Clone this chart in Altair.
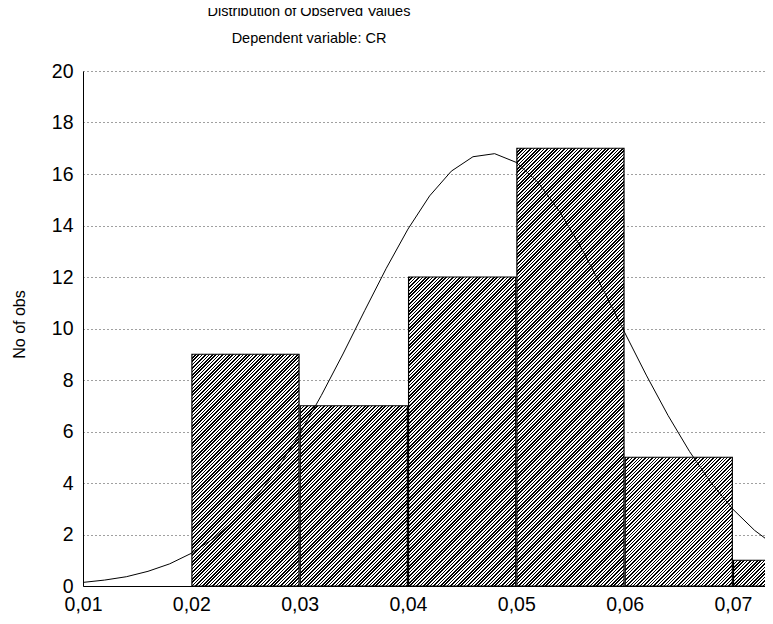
import altair as alt
import pandas as pd

# ---- data ----
bin_start = [0.02, 0.03, 0.04, 0.05, 0.06, 0.07]
bin_end = [0.03, 0.04, 0.05, 0.06, 0.07, 0.08]
counts = [9, 7, 12, 17, 5, 1]

curve_x = [0.010, 0.012, 0.014, 0.016, 0.018, 0.020, 0.022, 0.024, 0.026, 0.028,
           0.030, 0.032, 0.034, 0.036, 0.038, 0.040, 0.042, 0.044, 0.046, 0.048,
           0.050, 0.052, 0.054, 0.056, 0.058, 0.060, 0.062, 0.064, 0.066, 0.068,
           0.070, 0.072, 0.074]
curve_y = [0.14, 0.23, 0.36, 0.57, 0.86, 1.27, 1.83, 2.55, 3.47, 4.58,
           5.90, 7.40, 9.01, 10.69, 12.34, 13.86, 15.15, 16.11, 16.67, 16.79,
           16.45, 15.68, 14.54, 13.13, 11.53, 9.85, 8.19, 6.63, 5.22, 4.00,
           2.98, 2.16, 1.53]

x_ticks = [0.01, 0.02, 0.03, 0.04, 0.05, 0.06, 0.07]
y_ticks = [0, 2, 4, 6, 8, 10, 12, 14, 16, 18, 20]

# ---- layout / style ----
W, H = 682, 515
XMIN, XMAX = 0.01, 0.07296
YMAX = 20
LABEL_FONT = "Liberation Sans"
TITLE_FONT = "Liberation Sans"


def hatch(w, h, period=3.4, frac=0.45):
    """Linear gradient with hard stops that renders as '/' hatching."""
    L = w + h
    s = w * w + h * h
    a = w * L / s
    b = h * L / s
    stops = []
    k = 0
    while k * period < L:
        t0 = round(k * period / L, 5)
        t1 = round(min(1.0, (k + frac) * period / L), 5)
        t2 = round(min(1.0, (k + 1) * period / L), 5)
        stops += [{"offset": t0, "color": "black"},
                  {"offset": t1, "color": "black"},
                  {"offset": t1, "color": "white"},
                  {"offset": t2, "color": "white"}]
        k += 1
    return {"gradient": "linear", "x1": 0, "y1": 0, "x2": a, "y2": b, "stops": stops}


bars_df = pd.DataFrame({"idx": list(range(len(counts))), "start": bin_start,
                        "end": bin_end, "count": counts, "base": [0] * len(counts)})
curve_df = pd.DataFrame({"x": curve_x, "y": curve_y})

xscale = alt.Scale(domain=[XMIN, XMAX], nice=False, zero=False)
yscale = alt.Scale(domain=[0, YMAX], nice=False, zero=True)

xaxis = alt.Axis(values=x_ticks, title=None, grid=False, ticks=False,
                 labelExpr="replace(format(datum.value, '.2f'), '.', ',')",
                 labelFont=LABEL_FONT, labelFontSize=19.5, labelColor="black",
                 labelPadding=9, domainColor="black", domainWidth=1,
                 labelFlush=False, labelOverlap=False)
yaxis = alt.Axis(values=y_ticks, title="No of obs", grid=True,
                 gridColor="black", gridDash=[1, 3], gridWidth=1, gridOpacity=0.75,
                 ticks=False, labelFont=LABEL_FONT, labelFontSize=19.5,
                 labelColor="black", labelPadding=10, domainColor="black",
                 domainWidth=1, titleFont=LABEL_FONT, titleFontSize=16,
                 titleFontWeight="normal", titleColor="black", titleX=-64,
                 titleY=253, titleAngle=270, titleAlign="center",
                 titleBaseline="middle", labelFlush=False, labelOverlap=False)

bar_px_w = (0.01 / (XMAX - XMIN)) * W - 1.2

layers = []
for i, c in enumerate(counts):
    hpx = c * H / YMAX
    layers.append(
        alt.Chart(bars_df)
        .transform_filter(alt.datum.idx == i)
        .mark_bar(fill=hatch(bar_px_w, hpx), stroke="black", strokeWidth=1.2,
                  clip=True, xOffset=0.6, x2Offset=-0.6)
        .encode(
            x=alt.X("start:Q", scale=xscale, axis=xaxis),
            x2="end:Q",
            y=alt.Y("count:Q", scale=yscale, axis=yaxis, stack=None),
            y2="base:Q",
        )
    )

curve = (
    alt.Chart(curve_df)
    .mark_line(color="black", strokeWidth=1, clip=True)
    .encode(x=alt.X("x:Q", scale=xscale, axis=xaxis),
            y=alt.Y("y:Q", scale=yscale, axis=yaxis))
)

chart = (
    alt.layer(*layers, curve)
    .properties(
        width=W, height=H,
        autosize="none",
        padding={"left": 75, "top": 63, "right": 0, "bottom": 28},
        background="white",
        title=alt.TitleParams(
            text="Distribution of Observed Values",
            subtitle="Dependent variable: CR",
            font=TITLE_FONT, fontSize=14.5, fontWeight="normal", color="black",
            subtitleFont=TITLE_FONT, subtitleFontSize=14.5, subtitleColor="black",
            subtitlePadding=12.5, anchor="middle", frame="group", dx=-115, offset=15,
        ),
    )
    .configure_view(stroke=None)
)

chart.save("out.html", embed_options={"renderer": "svg", "actions": False})
